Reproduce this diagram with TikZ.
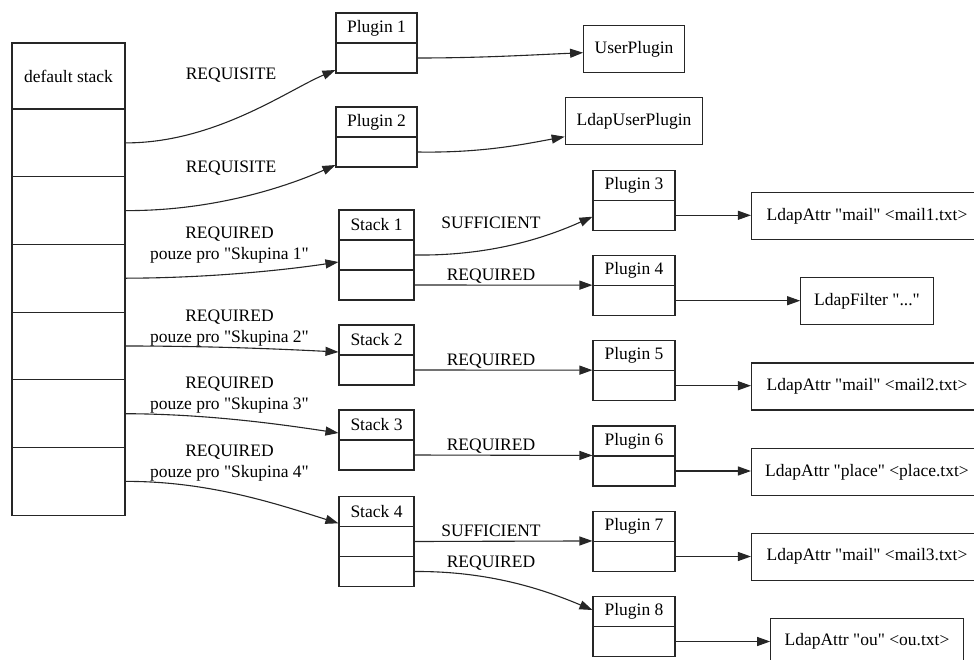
\documentclass[tikz,border=0pt]{standalone}
\usepackage{fontspec}
\setmainfont{Liberation Serif}[Ligatures=TeXOff]
\usetikzlibrary{arrows.meta,calc}

\tikzset{
  txt/.style={font=\fontsize{17.5}{21}\selectfont, inner sep=0pt, text=black},
  box/.style={txt, draw=black!85, line width=1.1pt},
  stk/.style={box, minimum width=113pt, minimum height=67.7pt},
  pcell/.style={box, minimum width=81pt, minimum height=30pt},
  scell/.style={box, minimum width=75pt, minimum height=30pt},
  qcell/.style={box, minimum width=82pt, minimum height=30pt},
  leaf/.style={box, minimum height=47pt},
  lbl/.style={txt, anchor=base},
  lbl2/.style={txt, align=center},
  link/.style={draw=black!85, line width=1.1pt, -{Triangle[length=13pt,width=9pt]}},
}

\begin{document}
\begin{tikzpicture}[x=1pt,y=-1pt]
\useasboundingbox (0,0) rectangle (974,659);

% default stack
\node[stk, minimum height=66pt] (ds0) at (68.5,76) {default stack};
\node[stk] (ds1) at (68.5,142.9) {};
\node[stk] (ds2) at (68.5,210.6) {};
\node[stk] (ds3) at (68.5,278.2) {};
\node[stk] (ds4) at (68.5,346.0) {};
\node[stk] (ds5) at (68.5,413.7) {};
\node[stk] (ds6) at (68.5,481.4) {};

% second column: plugins and sub-stacks
\node[pcell] (p1h) at (376.5,28) {Plugin 1};
\node[pcell] (p1c) at (376.5,58) {};
\node[pcell] (p2h) at (376.5,122) {Plugin 2};
\node[pcell] (p2c) at (376.5,152) {};

\node[scell] (s1h) at (376.5,225) {Stack 1};
\node[scell] (s1a) at (376.5,255) {};
\node[scell] (s1b) at (376.5,285) {};
\node[scell] (s2h) at (376.5,340) {Stack 2};
\node[scell] (s2a) at (376.5,370) {};
\node[scell] (s3h) at (376.5,425) {Stack 3};
\node[scell] (s3a) at (376.5,455) {};
\node[scell] (s4h) at (376.5,511.3) {Stack 4};
\node[scell] (s4a) at (376.5,541.5) {};
\node[scell] (s4b) at (376.5,571.5) {};

% third column
\node[leaf, minimum width=100.7pt] (up) at (634,49.2) {UserPlugin};
\node[leaf, minimum width=137.6pt] (lup) at (634,121.3) {LdapUserPlugin};

\node[qcell] (p3h) at (634,185.3) {Plugin 3};
\node[qcell] (p3c) at (634,215.3) {};
\node[qcell] (p4h) at (634,270.7) {Plugin 4};
\node[qcell] (p4c) at (634,300.7) {};
\node[qcell] (p5h) at (634,355.7) {Plugin 5};
\node[qcell] (p5c) at (634,385.7) {};
\node[qcell] (p6h) at (634,441) {Plugin 6};
\node[qcell] (p6c) at (634,471) {};
\node[qcell] (p7h) at (634,526.7) {Plugin 7};
\node[qcell] (p7c) at (634,556.5) {};
\node[qcell] (p8h) at (634,611.7) {Plugin 8};
\node[qcell] (p8c) at (634,641.5) {};

% fourth column
\node[leaf, minimum width=231pt] (m1) at (867,216) {LdapAttr "mail" <mail1.txt>};
\node[leaf, minimum width=132.6pt] (lf) at (867,301.2) {LdapFilter "..."};
\node[leaf, minimum width=231pt] (m2) at (867,386.5) {LdapAttr "mail" <mail2.txt>};
\node[leaf, minimum width=231pt] (pl) at (867,472) {LdapAttr "place" <place.txt>};
\node[leaf, minimum width=231pt] (m3) at (867,556.7) {LdapAttr "mail" <mail3.txt>};
\node[leaf, minimum width=192.6pt] (ou) at (867,641.7) {LdapAttr "ou" <ou.txt>};

% edges from the default stack
\draw[link] (ds1.east) .. controls (215,143) and (288,90) .. ($(p1c.west)+(0,12)$);
\draw[link] (ds2.east) .. controls (215,211) and (288,186) .. ($(p2c.west)+(0,13)$);
\draw[link] (ds3.east) .. controls (210,278) and (285,270) .. ($(s1a.west)+(0,7)$);
\draw[link] (ds4.east) .. controls (210,346) and (280,349) .. ($(s2h.west)+(0,12)$);
\draw[link] (ds5.east) .. controls (210,414) and (285,425) .. ($(s3h.west)+(0,8)$);
\draw[link] (ds6.east) .. controls (210,481) and (280,505) .. ($(s4h.west)+(0,12)$);

\node[lbl] (l1) at (231,79.8) {REQUISITE};
\node[lbl] (l2) at (231,172.8) {REQUISITE};
\node[lbl2] (l3) at (229.5,245.5) {REQUIRED\\pouze pro "Skupina 1"};
\node[lbl2] (l4) at (229.5,328.2) {REQUIRED\\pouze pro "Skupina 2"};
\node[lbl2] (l5) at (229.5,395.5) {REQUIRED\\pouze pro "Skupina 3"};
\node[lbl2] (l6) at (229.5,462.9) {REQUIRED\\pouze pro "Skupina 4"};

% edges from the second column
\draw[link] (p1c.east) .. controls (480,58) and (530,55) .. ($(up.west)+(0,3.5)$);
\draw[link] (p2c.east) .. controls (480,153) and (520,145) .. ($(lup.west)+(0,15.4)$);
\draw[link] (s1a.east) .. controls (490,256) and (545,238) .. ($(p3c.west)+(0,1.4)$);
\draw[link] (s1b.east) -- (p4c.north west);
\draw[link] (s2a.east) -- (p5c.north west);
\draw[link] (s3a.east) -- (p6c.north west);
\draw[link] (s4a.east) -- (p7c.north west);
\draw[link] (s4b.east) .. controls (490,571) and (545,590) .. ($(p8h.west)+(0,-1.7)$);

\node[lbl] (l7) at (491,228.8) {SUFFICIENT};
\node[lbl] (l8) at (491,280.8) {REQUIRED};
\node[lbl] (l9) at (491,365.8) {REQUIRED};
\node[lbl] (l10) at (491,450.8) {REQUIRED};
\node[lbl] (l11) at (491,536.5) {SUFFICIENT};
\node[lbl] (l12) at (491,567.5) {REQUIRED};

% edges into the fourth column
\draw[link] (p3c.east) -- (p3c.east -| m1.west);
\draw[link] (p4c.east) -- (p4c.east -| lf.west);
\draw[link] (p5c.east) -- (p5c.east -| m2.west);
\draw[link] (p6c.east) -- (p6c.east -| pl.west);
\draw[link] (p7c.east) -- (p7c.east -| m3.west);
\draw[link] (p8c.east) -- (p8c.east -| ou.west);
\end{tikzpicture}
\end{document}
